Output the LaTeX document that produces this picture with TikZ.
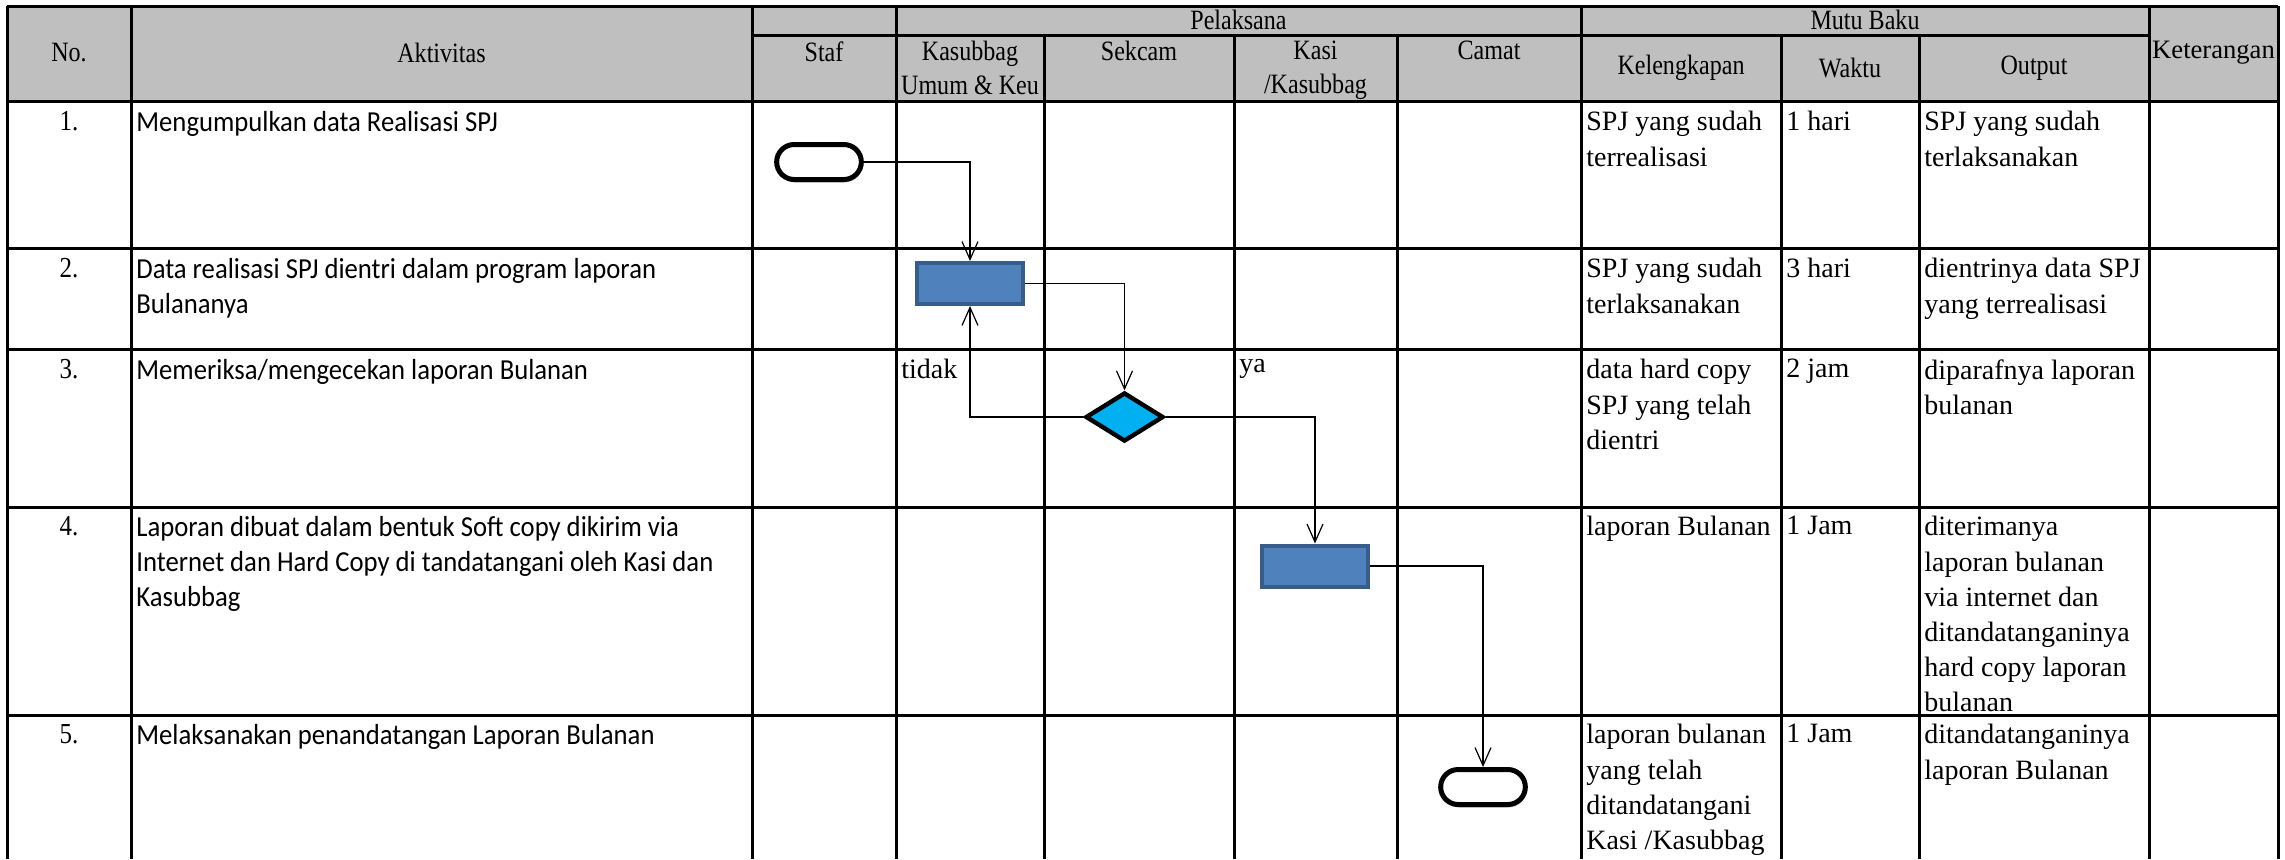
\documentclass[tikz,border=0pt]{standalone}
\usepackage{fontspec}
\setmainfont{Liberation Serif}
\newfontfamily\hdrfont[FakeStretch=0.86]{Liberation Serif}
\newfontfamily\calibri[FakeStretch=0.92]{Carlito}
\usetikzlibrary{arrows.meta,positioning,shapes.geometric,shapes.misc,shadows}

\definecolor{hdrgray}{HTML}{BFBFBF}
\definecolor{procblue}{HTML}{4F81BD}
\definecolor{procedge}{HTML}{385D8A}
\definecolor{deccyan}{HTML}{00B0F0}

\begin{document}
\begin{tikzpicture}[
  x=0.5pt, y=-0.5pt,
  font=\fontsize{14}{17.6}\selectfont,
  grid/.style={line width=1.5pt},
  arrow/.style={-{Straight Barb[length=9pt,width=8pt]}, line width=0.6pt},
  hdr/.style={align=center, inner sep=0pt, font=\hdrfont\fontsize{14}{16.6}\selectfont},
  hdrtop/.style={hdr, anchor=north},
  cell/.style={anchor=north west, align=left, inner sep=2pt},
  act/.style={cell, font=\calibri\fontsize{14.5}{17.6}\selectfont},
  num/.style={anchor=north, inner sep=2pt, font=\hdrfont\fontsize{14.5}{16}\selectfont},
  proc/.style={rectangle, draw=procedge, line width=2pt, fill=procblue,
               minimum width=53pt, minimum height=20.5pt},
  dec/.style={diamond, draw, line width=2.2pt, fill=deccyan, aspect=1.59,
              minimum width=39pt, minimum height=24.5pt, inner sep=0pt},
  term/.style={rounded rectangle, draw, line width=2.5pt, fill=white,
               minimum width=49pt, minimum height=17.5pt,
               drop shadow={shadow xshift=0.5pt, shadow yshift=-1.5pt, opacity=0.45}}
]
\useasboundingbox (0,0) rectangle (2285,859);

% header background
\fill[hdrgray] (7,6) rectangle (2278,101);

% table rules
\foreach \y in {6,101,248,349,507,715}
  \draw[grid] (7,\y) -- (2278,\y);
\draw[grid] (752,35) -- (2149,35);
\foreach \x in {7,131,752,896,1581,2149,2278}
  \draw[grid] (\x,6) -- (\x,859);
\foreach \x in {1044,1234,1397,1781,1919}
  \draw[grid] (\x,35) -- (\x,859);

% header texts
\node[hdr] (hno) at (69,53) {No.};
\node[hdr] (hakt) at (441.5,53) {Aktivitas};
\node[hdr] (hpel) at (1238.5,20) {Pelaksana};
\node[hdr] (hmutu) at (1865,20) {Mutu Baku};
\node[hdr, font=\fontsize{13.3}{16}\selectfont] (hket) at (2213.5,53) {Keterangan};
\node[hdrtop] (hstaf) at (824,41) {Staf};
\node[hdrtop] (hkasub) at (970,41) {Kasubbag\\Umum \& Keu};
\node[hdrtop] (hsek) at (1139,41) {Sekcam};
\node[hdrtop] (hkasi) at (1315.5,41) {Kasi\\/Kasubbag};
\node[hdrtop] (hcamat) at (1489,41) {Camat};
\node[hdr] (hkel) at (1681,68) {Kelengkapan};
\node[hdr] (hwak) at (1850,68) {Waktu};
\node[hdr] (hout) at (2034,68) {Output};

% row 1
\node[num] (n1) at (69,107) {1.};
\node[act] (a1) at (132,107) {Mengumpulkan data Realisasi SPJ};
\node[cell] (k1) at (1582,107) {SPJ yang sudah\\terrealisasi};
\node[cell] (w1) at (1782,107) {1 hari};
\node[cell] (o1) at (1920,107) {SPJ yang sudah\\terlaksanakan};

% row 2
\node[num] (n2) at (69,254) {2.};
\node[act] (a2) at (132,254) {Data realisasi SPJ dientri dalam program laporan\\Bulananya};
\node[cell] (k2) at (1582,254) {SPJ yang sudah\\terlaksanakan};
\node[cell] (w2) at (1782,254) {3 hari};
\node[cell] (o2) at (1920,254) {dientrinya data SPJ\\yang terrealisasi};

% row 3
\node[num] (n3) at (69,355) {3.};
\node[act] (a3) at (132,355) {Memeriksa/mengecekan laporan Bulanan};
\node[cell] (k3) at (1582,355) {data hard copy\\SPJ yang telah\\dientri};
\node[cell] (w3) at (1782,355) {2 jam};
\node[cell] (o3) at (1920,355) {diparafnya laporan\\bulanan};

% row 4
\node[num] (n4) at (69,512) {4.};
\node[act] (a4) at (132,512) {Laporan dibuat dalam bentuk Soft copy dikirim via\\Internet dan Hard Copy di tandatangani oleh Kasi dan\\Kasubbag};
\node[cell] (k4) at (1582,512) {laporan Bulanan};
\node[cell] (w4) at (1782,512) {1 Jam};
\node[cell] (o4) at (1920,512) {diterimanya\\laporan bulanan\\via internet dan\\ditandatanganinya\\hard copy laporan\\bulanan};

% row 5
\node[num] (n5) at (69,720) {5.};
\node[act] (a5) at (132,720) {Melaksanakan penandatangan Laporan Bulanan};
\node[cell] (k5) at (1582,720) {laporan bulanan\\yang telah\\ditandatangani\\Kasi /Kasubbag};
\node[cell] (w5) at (1782,720) {1 Jam};
\node[cell] (o5) at (1920,720) {ditandatanganinya\\laporan Bulanan};

% flow symbols
\node[term] (start) at (819,162) {};
\node[proc] (entri) at (970,283.5) {};
\node[dec] (cek) at (1124.5,417) {};
\node[proc] (kirim) at (1315,566) {};
\node[term] (finish) at (1483,787) {};

\draw[arrow] (start.east) -| (entri.north);
\draw[arrow] (entri.east) -| (cek.north);
\draw[arrow] (cek.west) -| (entri.south);
\draw[arrow] (cek.east) -| (kirim.north);
\draw[arrow] (kirim.east) -| (finish.north);

\node[cell] (tidak) at (897,355) {tidak};
\node[cell] (ya) at (1235,355) {ya};

\end{tikzpicture}
\end{document}
